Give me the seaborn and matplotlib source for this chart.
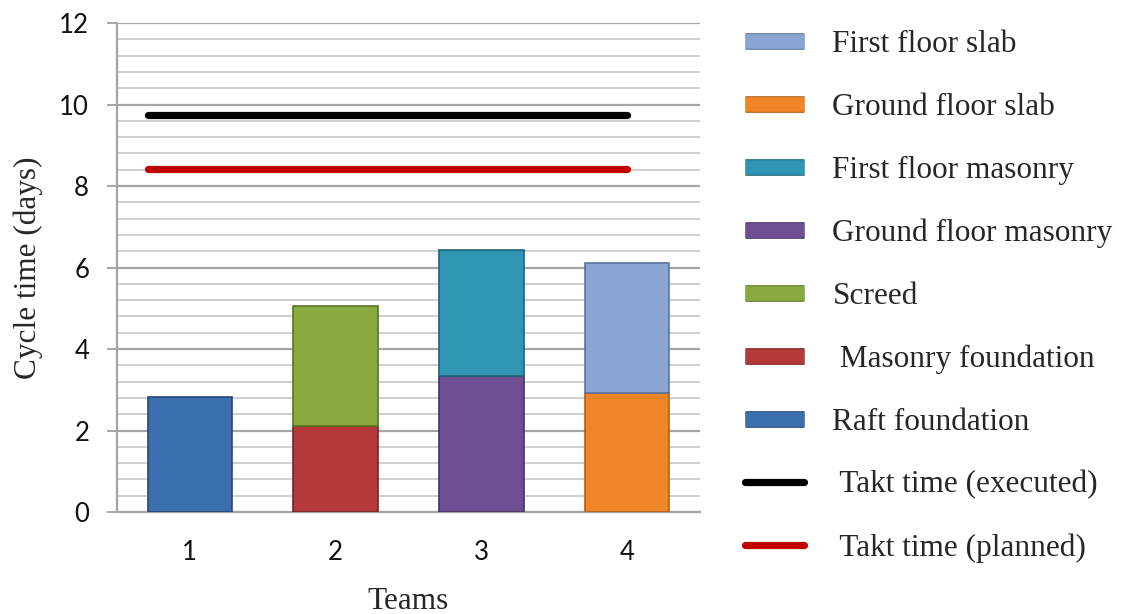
import numpy as np
import pandas as pd
import matplotlib
matplotlib.use("Agg")
import matplotlib.pyplot as plt
import matplotlib.patheffects as pe
from matplotlib.lines import Line2D
from matplotlib.ticker import MultipleLocator
import seaborn as sns

# ---------------- data ----------------
teams = ["1", "2", "3", "4"]
tasks = ["Raft foundation", "Masonry foundation", "Screed",
         "Ground floor masonry", "First floor masonry",
         "Ground floor slab", "First floor slab"]
task_team = ["1", "2", "2", "3", "3", "4", "4"]
task_duration = [2.82, 2.10, 2.95, 3.35, 3.08, 2.92, 3.20]
task_colors = ["#3b6fae", "#b4393a", "#88aa3e", "#6e4f92",
               "#2f95b2", "#ef8527", "#8aa5d2"]
task_edges = ["#24477a", "#7a2222", "#5a7526", "#483360",
              "#1d6478", "#b05f15", "#5c7499"]
takt_labels = [" Takt time (executed)", " Takt time (planned)"]
takt_values = [9.75, 8.42]
takt_colors = ["#000000", "#c00000"]

# ---------------- style ----------------
sns.set_theme(style="white")
plt.rcParams["font.family"] = ["Lato", "DejaVu Sans"]

fig = plt.figure(figsize=(11.29, 6.14), dpi=100)
ax = fig.add_axes([0.1036, 0.166, 0.5164, 0.7965])

bar_width = 0.58
df = pd.DataFrame({"team": task_team, "task": tasks, "dur": task_duration})
df["bottom"] = df.groupby("team")["dur"].cumsum() - df["dur"]

for i, row in df.iterrows():
    sns.barplot(x=[row["team"]], y=[row["dur"]], order=teams,
                bottom=row["bottom"], color=task_colors[i],
                edgecolor=task_edges[i], linewidth=1.2,
                width=bar_width, saturation=1, ax=ax, zorder=3)

x0 = 0 - bar_width / 2
x1 = len(teams) - 1
for v, c in zip(takt_values, takt_colors):
    ax.plot([x0, x1], [v, v], color=c, lw=5.2, solid_capstyle="round", zorder=4)

ax.set_xlim(-0.5, len(teams) - 0.5)
ax.set_ylim(0, 12)
ax.yaxis.set_major_locator(MultipleLocator(2))
ax.yaxis.set_minor_locator(MultipleLocator(0.4))
ax.grid(which="minor", axis="y", color="#cfcfcf", lw=1.4, zorder=0)
ax.grid(which="major", axis="y", color="#a6a6a6", lw=1.6, zorder=0)
ax.set_axisbelow(True)

for s in ["top", "right"]:
    ax.spines[s].set_visible(False)
for s in ["left", "bottom"]:
    ax.spines[s].set_color("#a6a6a6")
    ax.spines[s].set_linewidth(1.6)

ax.tick_params(axis="y", which="major", length=7, width=1.4, color="#a6a6a6",
               direction="out", labelsize=18.5, pad=13, left=True, labelcolor="#111111")
ax.tick_params(axis="y", which="minor", length=0)
ax.tick_params(axis="x", length=0, labelsize=18.5, pad=20, labelcolor="#111111")

ax.set_xlabel("Teams", family=["Liberation Serif"], fontsize=22.5, labelpad=16)
ax.set_ylabel("Cycle time (days)", family=["Liberation Serif"], fontsize=22.5, labelpad=12)

# ---------------- legend ----------------
handles = []
labels = []
for i in range(len(tasks) - 1, -1, -1):
    h = Line2D([0], [0], color=task_colors[i], lw=10.5, solid_capstyle="butt",
               path_effects=[pe.Stroke(linewidth=12, foreground=task_edges[i]), pe.Normal()])
    handles.append(h)
    lab = tasks[i]
    if lab == "Masonry foundation":
        lab = " " + lab
    labels.append(lab)
for lab, c in zip(takt_labels, takt_colors):
    handles.append(Line2D([0], [0], color=c, lw=5.2, solid_capstyle="round"))
    labels.append(lab)

fig.legend(handles, labels, loc="upper left", bbox_to_anchor=(745 / 1129, 1 - 30 / 614),
           frameon=False, prop={"family": "Liberation Serif", "size": 22.5},
           handlelength=1.9, handletextpad=0.9, labelspacing=1.08,
           borderpad=0, borderaxespad=0)

fig.savefig("out.png", dpi=100)
